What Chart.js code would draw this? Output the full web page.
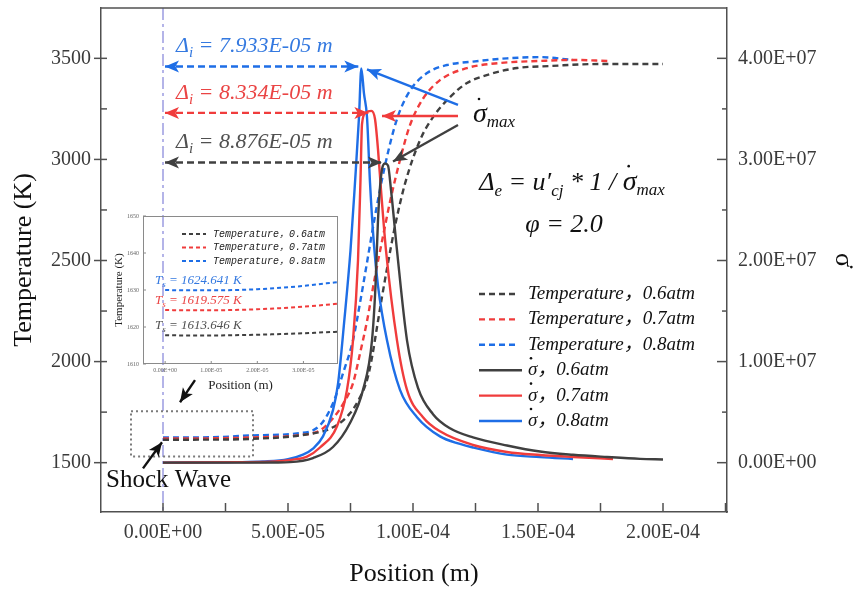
<!DOCTYPE html>
<html lang="en">
<head>
<meta charset="UTF-8">
<title>Temperature and heat release rate behind the shock</title>
<style>
    html, body { margin: 0; padding: 0; background: #fff; }
    #wrap { position: relative; width: 856px; height: 590px; }
    #mainChart { position: absolute; left: 0; top: 0; }
    #insetChart { position: absolute; left: 105px; top: 205px; }
</style>
</head>
<body>
<div id="wrap">
    <canvas id="mainChart" width="856" height="590"></canvas>
    <canvas id="insetChart" width="240" height="190"></canvas>
</div>

<script src="https://cdn.jsdelivr.net/npm/chart.js"></script>
<script>
// ---- temperature (K) vs position (m), dashed, left axis
const tempPos06 = [0, 2.0e-5, 3.6e-5, 5.48e-5, 6.8e-5, 7.48e-5, 7.88e-5, 8.16e-5, 8.36e-5, 8.56e-5, 8.76e-5, 8.96e-5, 9.28e-5, 9.68e-5, 1.028e-4, 1.08e-4, 1.148e-4, 1.216e-4, 1.308e-4, 1.416e-4, 1.548e-4, 1.748e-4, 2.0e-4];
const temp06    = [1613.6, 1614, 1618, 1635, 1675, 1744, 1823, 1908, 2021, 2170, 2320, 2460, 2670, 2880, 3095, 3209, 3308, 3378, 3422, 3452, 3462, 3472, 3472];
const tempPos07 = [0, 2.0e-5, 3.6e-5, 5.36e-5, 6.28e-5, 6.8e-5, 7.2e-5, 7.6e-5, 7.88e-5, 8.16e-5, 8.48e-5, 8.8e-5, 9.08e-5, 9.48e-5, 9.88e-5, 1.04e-4, 1.108e-4, 1.216e-4, 1.348e-4, 1.508e-4, 1.64e-4, 1.78e-4];
const temp07    = [1619.6, 1620.5, 1625, 1635, 1660, 1720, 1790, 1893, 2040, 2200, 2420, 2620, 2790, 2997, 3170, 3300, 3392, 3452, 3477, 3487, 3492, 3487];
const tempPos08 = [0, 2.0e-5, 3.6e-5, 5.36e-5, 6.28e-5, 6.8e-5, 7.2e-5, 7.6e-5, 7.88e-5, 8.16e-5, 8.48e-5, 8.88e-5, 9.36e-5, 9.88e-5, 1.056e-4, 1.136e-4, 1.24e-4, 1.376e-4, 1.508e-4, 1.64e-4];
const temp08    = [1624.6, 1626, 1635, 1645, 1685, 1794, 1942, 2106, 2290, 2490, 2720, 2970, 3200, 3340, 3427, 3467, 3484, 3500, 3506, 3492];

// ---- heat release rate sigma-dot (1/s) vs position (m), solid, right axis
const sigPos06 = [0, 3.0e-5, 4.5e-5, 5.08e-5, 6.0e-5, 6.8e-5, 7.48e-5, 8.0e-5, 8.36e-5, 8.5e-5, 8.6e-5, 8.72e-5, 8.876e-5, 9.0e-5, 9.12e-5, 9.36e-5, 9.76e-5, 1.02e-4, 1.08e-4, 1.148e-4, 1.24e-4, 1.376e-4, 1.508e-4, 1.64e-4, 1.776e-4, 1.908e-4, 2.0e-4];
const sig06    = [0, 0, 0.02e6, 0.05e6, 0.46e6, 1.55e6, 3.93e6, 7.2e6, 12.1e6, 17.5e6, 24.0e6, 28.3e6, 29.6e6, 29.4e6, 27.0e6, 21.0e6, 12.1e6, 7.4e6, 4.8e6, 3.4e6, 2.5e6, 1.7e6, 1.1e6, 0.78e6, 0.56e6, 0.38e6, 0.32e6];
const sigPos07 = [0, 3.0e-5, 4.5e-5, 5.2e-5, 5.76e-5, 6.28e-5, 6.96e-5, 7.36e-5, 7.6e-5, 7.8e-5, 7.9e-5, 7.96e-5, 8.1e-5, 8.334e-5, 8.48e-5, 8.6e-5, 8.72e-5, 8.92e-5, 9.36e-5, 9.76e-5, 1.04e-4, 1.108e-4, 1.24e-4, 1.376e-4, 1.508e-4, 1.64e-4, 1.8e-4];
const sig07    = [0, 0.05e6, 0.12e6, 0.3e6, 0.6e6, 1.5e6, 3.6e6, 7.2e6, 12.1e6, 20.0e6, 28.0e6, 33.5e6, 34.6e6, 34.8e6, 34.0e6, 31.0e6, 27.0e6, 21.0e6, 12.1e6, 7.2e6, 4.5e6, 3.1e6, 1.75e6, 1.06e6, 0.76e6, 0.56e6, 0.37e6];
const sigPos08 = [0, 3.0e-5, 4.0e-5, 5.0e-5, 5.6e-5, 6.0e-5, 6.4e-5, 6.8e-5, 7.0e-5, 7.25e-5, 7.5e-5, 7.68e-5, 7.84e-5, 7.933e-5, 8.04e-5, 8.16e-5, 8.28e-5, 8.44e-5, 8.6e-5, 8.96e-5, 9.48e-5, 1.016e-4, 1.108e-4, 1.188e-4, 1.24e-4, 1.376e-4, 1.508e-4, 1.64e-4];
const sig08    = [0, 0.05e6, 0.12e6, 0.35e6, 0.8e6, 1.4e6, 2.6e6, 5.2e6, 7.8e6, 14.0e6, 21.0e6, 27.7e6, 34.2e6, 39.0e6, 36.5e6, 34.2e6, 27.7e6, 21.5e6, 17.5e6, 12.1e6, 7.2e6, 4.5e6, 2.6e6, 1.85e6, 1.5e6, 0.8e6, 0.55e6, 0.37e6];

// induction lengths and peak heat release, 0.6 / 0.7 / 0.8 atm
const deltaI    = [8.876e-5, 8.334e-5, 7.933e-5];
const sigmaPeak = [2.97e7, 3.46e7, 3.92e7];

// inset: temperature just behind the shock
const insetPos    = [0, 0.5e-5, 1.0e-5, 1.5e-5, 2.0e-5, 2.5e-5, 3.0e-5, 3.5e-5, 3.75e-5];
const insetTemp06 = [1617.8, 1617.7, 1617.7, 1617.8, 1617.9, 1618.1, 1618.3, 1618.6, 1618.7];
const insetTemp07 = [1624.6, 1624.5, 1624.5, 1624.6, 1624.8, 1625.1, 1625.5, 1626.0, 1626.3];
const insetTemp08 = [1630.0, 1629.9, 1629.9, 1630.0, 1630.2, 1630.6, 1631.1, 1631.8, 1632.1];
const shockTemp   = [1613.646, 1619.575, 1624.641];

// tick labels
const xTicks      = [0, 5e-5, 1e-4, 1.5e-4, 2e-4];
const tempTicks   = [1500, 2000, 2500, 3000, 3500];
const sigmaTicks  = [0, 1e7, 2e7, 3e7, 4e7];
const insetXTicks = [0, 1e-5, 2e-5, 3e-5];
const insetYTicks = [1610, 1620, 1630, 1640, 1650];

const SERIF = '"Liberation Serif", "Noto Sans CJK SC", serif';
const GRAY = '#404040', RED = '#f03c3c', BLUE = '#1e6ee6';
const colors = [GRAY, RED, BLUE];
const textColors = ['#505050', '#ea4444', '#3479e0'];

function sci(v, digits) {
    const d = digits === undefined ? 2 : digits;
    if (Math.abs(v) < 1e-20) return (0).toFixed(d) + 'E+00';
    let e = Math.floor(Math.log10(Math.abs(v)));
    let m = v / Math.pow(10, e);
    if (Math.abs(m) >= 10 - 0.5 * Math.pow(10, -d)) { m /= 10; e += 1; }
    const ea = Math.abs(e);
    return m.toFixed(d) + 'E' + (e < 0 ? '-' : '+') + (ea < 10 ? '0' : '') + ea;
}

function pts(xs, ys) {
    return xs.map((x, i) => ({ x: x, y: ys[i] }));
}

function line(ctx, x1, y1, x2, y2) {
    ctx.beginPath();
    ctx.moveTo(x1, y1);
    ctx.lineTo(x2, y2);
    ctx.stroke();
}

function arrowHead(ctx, xt, yt, xf, yf, len, half, color) {
    const ang = Math.atan2(yt - yf, xt - xf);
    ctx.save();
    ctx.translate(xt, yt);
    ctx.rotate(ang);
    ctx.fillStyle = color;
    ctx.beginPath();
    ctx.moveTo(0, 0);
    ctx.lineTo(-len, -half);
    ctx.lineTo(-len * 0.75, 0);
    ctx.lineTo(-len, half);
    ctx.closePath();
    ctx.fill();
    ctx.restore();
}

function arrow(ctx, x1, y1, x2, y2, color, width, dash, both) {
    ctx.save();
    ctx.strokeStyle = color;
    ctx.lineWidth = width;
    ctx.setLineDash(dash || []);
    line(ctx, x1, y1, x2, y2);
    ctx.restore();
    arrowHead(ctx, x2, y2, x1, y1, 14, 6, color);
    if (both) arrowHead(ctx, x1, y1, x2, y2, 14, 6, color);
}

// draws italic text made of pieces [text, size, dy]; returns x of each piece
function richText(ctx, x, y, parts, color, align) {
    let w = 0;
    parts.forEach(p => {
        ctx.font = 'italic ' + p[1] + 'px ' + SERIF;
        w += ctx.measureText(p[0]).width;
    });
    let cx = align === 'center' ? x - w / 2 : x;
    const xs = [];
    ctx.fillStyle = color;
    ctx.textAlign = 'left';
    ctx.textBaseline = 'alphabetic';
    parts.forEach(p => {
        ctx.font = 'italic ' + p[1] + 'px ' + SERIF;
        xs.push(cx);
        ctx.fillText(p[0], cx, y + (p[2] || 0));
        cx += ctx.measureText(p[0]).width;
    });
    return xs;
}

function dot(ctx, x, y, color) {
    ctx.fillStyle = color;
    ctx.beginPath();
    ctx.arc(x, y, 1.3, 0, Math.PI * 2);
    ctx.fill();
}

// inward tick marks and top frame
const axisTicks = {
    id: 'axisTicks',
    afterDraw(chart) {
        const ctx = chart.ctx, a = chart.chartArea;
        const sx = chart.scales.x, sy = chart.scales.y, s2 = chart.scales.y2;
        ctx.save();
        ctx.strokeStyle = '#505050';
        ctx.lineWidth = 1.5;
        line(ctx, a.left, a.top, a.right, a.top);
        for (let k = Math.ceil(sx.min / 2.5e-5); k * 2.5e-5 <= sx.max; k++) {
            const x = sx.getPixelForValue(k * 2.5e-5);
            line(ctx, x, a.bottom, x, a.bottom - 9);
        }
        for (let k = Math.ceil(sy.min / 250); k * 250 <= sy.max; k++) {
            const y = sy.getPixelForValue(k * 250);
            if (k % 2 === 0) line(ctx, a.left - 7, y, a.left + 6, y);
            else line(ctx, a.left, y, a.left + 6, y);
        }
        for (let k = Math.ceil(s2.min / 5e6); k * 5e6 <= s2.max; k++) {
            const y = s2.getPixelForValue(k * 5e6);
            line(ctx, a.right, y, a.right - (k % 2 === 0 ? 10 : 5), y);
        }
        ctx.restore();
    }
};

const annotations = {
    id: 'annotations',
    beforeDatasetsDraw(chart) {
        const ctx = chart.ctx, a = chart.chartArea;
        const X = v => chart.scales.x.getPixelForValue(v);
        const T = v => chart.scales.y.getPixelForValue(v);
        ctx.save();
        // shock front
        ctx.strokeStyle = '#b4b4e8';
        ctx.lineWidth = 2;
        ctx.setLineDash([12, 4, 3, 4]);
        line(ctx, X(0), a.top, X(0), a.bottom);
        // zoom box
        ctx.strokeStyle = '#7a7a7a';
        ctx.setLineDash([2, 3]);
        ctx.strokeRect(X(-1.28e-5), T(1754), X(3.6e-5) - X(-1.28e-5), T(1531) - T(1754));
        ctx.restore();
    },
    afterDatasetsDraw(chart) {
        const ctx = chart.ctx, a = chart.chartArea;
        const X = v => chart.scales.x.getPixelForValue(v);
        const T = v => chart.scales.y.getPixelForValue(v);
        const S = v => chart.scales.y2.getPixelForValue(v);
        ctx.save();

        // induction length arrows and labels
        for (let i = 0; i < 3; i++) {
            const y = S(sigmaPeak[i]);
            arrow(ctx, X(0) + 2, y, X(deltaI[i]) - 3, y, colors[i], 2.4, [7, 4], true);
            richText(ctx, X(0) + 13, y - 14, [['Δ', 22], ['i', 15, 5], [' = ' + sci(deltaI[i], 3) + ' m', 22]], textColors[i]);
        }

        // pointers to sigma max
        arrow(ctx, X(1.18e-4), S(3.54e7), X(8.16e-5), S(3.89e7), BLUE, 2.4);
        arrow(ctx, X(1.18e-4), S(3.43e7), X(8.76e-5), S(3.43e7), RED, 2.4);
        arrow(ctx, X(1.18e-4), S(3.34e7), X(9.2e-5), S(2.98e7), GRAY, 2.4);

        let xs = richText(ctx, X(1.24e-4), S(3.37e7), [['σ', 28], ['max', 17, 5]], '#111');
        dot(ctx, xs[0] + 6, S(3.37e7) - 23, '#111');

        xs = richText(ctx, X(1.636e-4), T(2848), [['Δ', 26], ['e', 17, 6], [' = u′', 26], ['cj', 17, 6], [' * 1 / ', 26], ['σ', 28], ['max', 17, 5]], '#111', 'center');
        dot(ctx, xs[5] + 6, T(2848) - 24, '#111');

        richText(ctx, X(1.604e-4), T(2640), [['φ = 2.0', 26]], '#111', 'center');

        // shock wave pointers
        arrow(ctx, X(-0.8e-5), T(1472), X(-0.04e-5), T(1601), '#111', 2.4);
        arrow(ctx, X(1.28e-5), T(1908), X(0.68e-5), T(1799), '#111', 2.4);
        ctx.font = '25px ' + SERIF;
        ctx.fillStyle = '#111';
        ctx.textAlign = 'left';
        ctx.textBaseline = 'alphabetic';
        ctx.fillText('Shock Wave', X(-2.28e-5), T(1379));

        // legend
        const lx = a.left + 378, ly = a.top + 286;
        chart.data.datasets.forEach((ds, i) => {
            const y = ly + i * 25.4;
            ctx.strokeStyle = ds.borderColor;
            ctx.lineWidth = 2.4;
            ctx.setLineDash(ds.borderDash || []);
            line(ctx, lx, y, lx + (ds.borderDash ? 40 : 43), y);
            ctx.setLineDash([]);
            ctx.fillStyle = '#111';
            ctx.font = 'italic 19px ' + SERIF;
            ctx.textBaseline = 'middle';
            let label = ds.label;
            let tx = lx + 49;
            if (label.startsWith('σ̇')) {
                ctx.fillText('σ', tx, y);
                dot(ctx, tx + 3, y - 12, '#111');
                tx += ctx.measureText('σ').width;
                ctx.fillStyle = '#111';
                label = label.slice(2);
            }
            ctx.fillText(label, tx, y);
        });
        ctx.restore();
    }
};

const common = { borderWidth: 2.4, pointRadius: 0, fill: false, cubicInterpolationMode: 'monotone' };
const dash = [6, 4];

const mainDatasets = [
    Object.assign({ label: 'Temperature，0.6atm', data: pts(tempPos06, temp06), borderColor: GRAY, borderDash: dash, yAxisID: 'y', order: 4 }, common),
    Object.assign({ label: 'Temperature，0.7atm', data: pts(tempPos07, temp07), borderColor: RED, borderDash: dash, yAxisID: 'y', order: 5 }, common),
    Object.assign({ label: 'Temperature，0.8atm', data: pts(tempPos08, temp08), borderColor: BLUE, borderDash: dash, yAxisID: 'y', order: 6 }, common),
    Object.assign({ label: 'σ̇，0.6atm', data: pts(sigPos06, sig06), borderColor: GRAY, yAxisID: 'y2', order: 1 }, common),
    Object.assign({ label: 'σ̇，0.7atm', data: pts(sigPos07, sig07), borderColor: RED, yAxisID: 'y2', order: 2 }, common),
    Object.assign({ label: 'σ̇，0.8atm', data: pts(sigPos08, sig08), borderColor: BLUE, yAxisID: 'y2', order: 3 }, common)
];

const tickFont = { family: SERIF, size: 20 };
const titleFont = { family: SERIF, size: 26 };

function noPadV(s) { s.paddingTop = 0; s.paddingBottom = 0; }
function noPadH(s) { s.paddingLeft = 0; s.paddingRight = 0; }

new Chart(document.getElementById('mainChart'), {
    type: 'line',
    data: { datasets: mainDatasets },
    options: {
        responsive: false,
        animation: false,
        layout: { padding: { top: 8, right: 0, bottom: 0, left: 0 } },
        plugins: { legend: { display: false }, tooltip: { enabled: false } },
        scales: {
            x: {
                type: 'linear',
                min: -2.48e-5,
                max: 2.256e-4,
                afterBuildTicks: s => { s.ticks = xTicks.map(v => ({ value: v })); },
                afterFit: s => { s.height = 78; noPadH(s); },
                ticks: { font: tickFont, color: '#3a3a3a', padding: 9, maxRotation: 0, callback: v => sci(v) },
                grid: { display: false, drawTicks: false },
                border: { color: '#505050', width: 1.5 },
                title: { display: true, text: 'Position (m)', font: titleFont, color: '#111', padding: { top: 0, bottom: 0 } }
            },
            y: {
                position: 'left',
                min: 1256,
                max: 3749,
                afterBuildTicks: s => { s.ticks = tempTicks.map(v => ({ value: v })); },
                afterFit: s => { s.width = 101; noPadV(s); },
                ticks: { font: tickFont, color: '#3a3a3a', padding: 10, callback: v => String(v) },
                grid: { display: false, drawTicks: false },
                border: { color: '#505050', width: 1.5 },
                title: { display: true, text: 'Temperature (K)', font: titleFont, color: '#111', padding: { top: 9, bottom: 0 } }
            },
            y2: {
                position: 'right',
                min: -4.88e6,
                max: 4.498e7,
                afterBuildTicks: s => { s.ticks = sigmaTicks.map(v => ({ value: v })); },
                afterFit: s => { s.width = 129; noPadV(s); },
                ticks: { font: tickFont, color: '#3a3a3a', padding: 11, callback: v => sci(v) },
                grid: { display: false, drawTicks: false },
                border: { color: '#505050', width: 1.5 },
                title: { display: true, text: 'σ̇', font: { family: SERIF, size: 26, lineHeight: 1 }, color: '#111', padding: { top: 0, bottom: 0 } }
            }
        }
    },
    plugins: [annotations, axisTicks]
});

// ---- inset
const insetDecor = {
    id: 'insetDecor',
    afterDatasetsDraw(chart) {
        const ctx = chart.ctx, a = chart.chartArea;
        const sx = chart.scales.x, sy = chart.scales.y;
        ctx.save();
        ctx.strokeStyle = '#8a8a8a';
        ctx.lineWidth = 1;
        ctx.strokeRect(a.left + 0.5, a.top + 0.5, a.right - a.left - 1, a.bottom - a.top - 1);
        insetYTicks.forEach(v => { const y = sy.getPixelForValue(v); line(ctx, a.left, y, a.left + 3, y); });
        insetXTicks.forEach(v => { const x = sx.getPixelForValue(v); line(ctx, x, a.bottom, x, a.bottom - 3); });

        chart.data.datasets.forEach((ds, i) => {
            const y = a.top + 18 + i * 13.5;
            ctx.strokeStyle = ds.borderColor;
            ctx.lineWidth = 2;
            ctx.setLineDash([4, 3]);
            line(ctx, a.left + 39, y, a.left + 63, y);
            ctx.setLineDash([]);
            ctx.fillStyle = '#222';
            ctx.font = 'italic 10px "Liberation Mono", "Noto Sans CJK SC", monospace';
            ctx.textBaseline = 'middle';
            ctx.textAlign = 'left';
            ctx.fillText(ds.label, a.left + 70, y);

            const ty = sy.getPixelForValue(ds.data[0].y) - 6;
            richText(ctx, a.left + 12, ty, [['T', 13], ['s', 9, 3], [' = ' + shockTemp[i].toFixed(3) + ' K', 13]], textColors[i]);
        });
        ctx.restore();
    }
};

const insetCommon = { borderWidth: 2, borderDash: [4, 3], pointRadius: 0, fill: false, cubicInterpolationMode: 'monotone' };
const smallFont = { family: SERIF, size: 6 };

new Chart(document.getElementById('insetChart'), {
    type: 'line',
    data: {
        datasets: [
            Object.assign({ label: 'Temperature，0.6atm', data: pts(insetPos, insetTemp06), borderColor: GRAY }, insetCommon),
            Object.assign({ label: 'Temperature，0.7atm', data: pts(insetPos, insetTemp07), borderColor: RED }, insetCommon),
            Object.assign({ label: 'Temperature，0.8atm', data: pts(insetPos, insetTemp08), borderColor: BLUE }, insetCommon)
        ]
    },
    options: {
        responsive: false,
        animation: false,
        layout: { padding: { top: 11, right: 7, bottom: 0, left: 0 } },
        plugins: { legend: { display: false }, tooltip: { enabled: false } },
        scales: {
            x: {
                type: 'linear',
                min: -0.48e-5,
                max: 3.75e-5,
                afterBuildTicks: s => { s.ticks = insetXTicks.map(v => ({ value: v })); },
                afterFit: s => { s.height = 31; noPadH(s); },
                ticks: { font: smallFont, color: '#666', padding: 3, maxRotation: 0, callback: v => sci(v) },
                grid: { display: false, drawTicks: false },
                border: { display: false },
                title: { display: true, text: 'Position (m)', font: { family: SERIF, size: 13 }, color: '#222', padding: { top: 0, bottom: 2 } }
            },
            y: {
                min: 1610,
                max: 1650,
                afterBuildTicks: s => { s.ticks = insetYTicks.map(v => ({ value: v })); },
                afterFit: s => { s.width = 38; noPadV(s); },
                ticks: { font: smallFont, color: '#666', padding: 4, callback: v => String(v) },
                grid: { display: false, drawTicks: false },
                border: { display: false },
                title: { display: true, text: 'Temperature (K)', font: { family: SERIF, size: 11 }, color: '#222', padding: { top: 8, bottom: 0 } }
            }
        }
    },
    plugins: [insetDecor]
});
</script>
</body>
</html>
